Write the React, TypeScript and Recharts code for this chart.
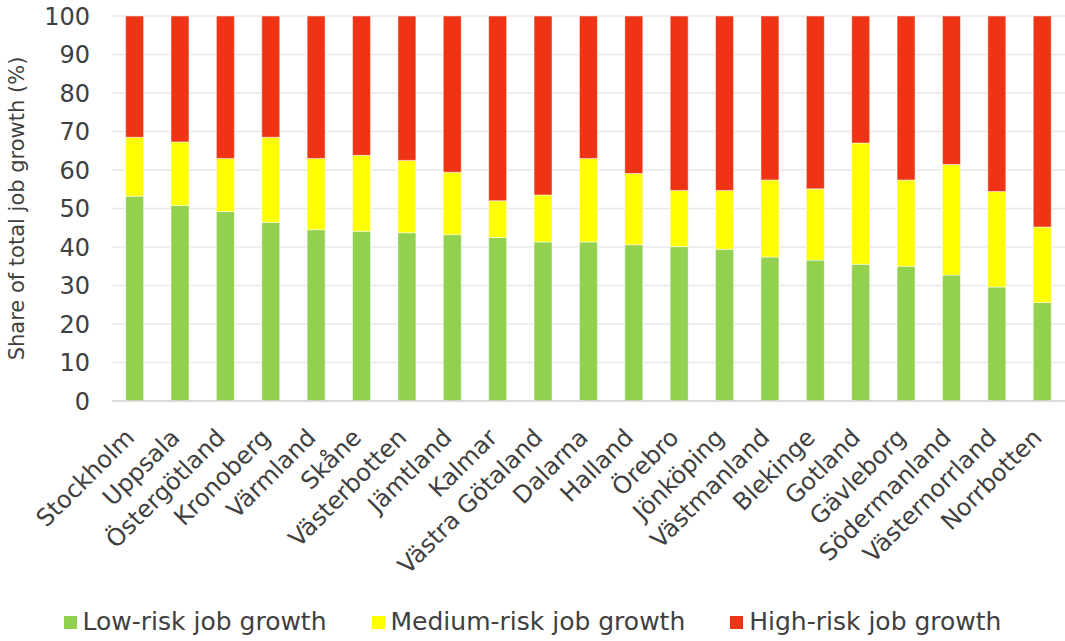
import React from "react"
import { Bar, BarChart, CartesianGrid, Legend, XAxis, YAxis } from "recharts"

// County shares of total job growth, split by automation risk (%)
const counties = [
  "Stockholm", "Uppsala", "Östergötland", "Kronoberg", "Värmland", "Skåne", "Västerbotten",
  "Jämtland", "Kalmar", "Västra Götaland", "Dalarna", "Halland", "Örebro", "Jönköping",
  "Västmanland", "Blekinge", "Gotland", "Gävleborg", "Södermanland", "Västernorrland", "Norrbotten",
]
const lowRisk = [53.2, 50.8, 49.2, 46.4, 44.5, 44.1, 43.7, 43.2, 42.5, 41.3, 41.3, 40.6, 40.1, 39.4, 37.4, 36.6, 35.5, 35.0, 32.7, 29.6, 25.6]
const mediumRisk = [15.3, 16.5, 13.8, 22.1, 18.5, 19.7, 18.8, 16.2, 9.5, 12.2, 21.7, 18.5, 14.6, 15.3, 20.0, 18.5, 31.5, 22.4, 28.7, 24.8, 19.6]
const highRisk = [31.5, 32.7, 37.0, 31.5, 37.0, 36.2, 37.5, 40.6, 48.0, 46.5, 37.0, 40.9, 45.3, 45.3, 42.6, 44.9, 33.0, 42.6, 38.6, 45.6, 54.8]
const yTicks = [0, 10, 20, 30, 40, 50, 60, 70, 80, 90, 100]

const series = [
  { key: "low", name: "Low-risk job growth", color: "#92D050" },
  { key: "medium", name: "Medium-risk job growth", color: "#FFFF00" },
  { key: "high", name: "High-risk job growth", color: "#EE3414" },
]

const rows = counties.map((county, i) => ({
  county,
  low: lowRisk[i],
  medium: mediumRisk[i],
  high: highRisk[i],
}))

const FONT = "'DejaVu Sans', sans-serif"
const TEXT = "#404040"

function CountyTick({ x, y, payload }: any) {
  return (
    <text
      x={x + 1}
      y={y + 30}
      textAnchor="end"
      transform={`rotate(-45, ${x + 1}, ${y + 30})`}
      fill={TEXT}
      fontSize={24}
      fontFamily={FONT}
    >
      {payload.value}
    </text>
  )
}

function LegendRow() {
  return (
    <div
      style={{
        display: "flex",
        justifyContent: "center",
        alignItems: "center",
        height: 40,
        fontFamily: FONT,
        fontSize: 25,
        color: TEXT,
      }}
    >
      {series.map((s, i) => (
        <div key={s.key} style={{ display: "flex", alignItems: "center", marginLeft: i ? 45 : 0 }}>
          <span style={{ width: 13, height: 13, background: s.color, marginRight: 6, marginTop: 2 }} />
          <span>{s.name}</span>
        </div>
      ))}
    </div>
  )
}

export default function App() {
  return (
    <div style={{ width: 1065, height: 641, background: "#fff" }}>
      <style>{`body { margin: 0; }`}</style>
      <BarChart
        width={1065}
        height={641}
        data={rows}
        margin={{ top: 16, right: 0, left: 0, bottom: 0 }}
        barCategoryGap="30%"
      >
        <CartesianGrid vertical={false} stroke="#E8E8E8" strokeWidth={1.5} />
        <XAxis
          dataKey="county"
          interval={0}
          height={200}
          tick={<CountyTick />}
          tickLine={false}
          axisLine={{ stroke: "#D6D6D6", strokeWidth: 1.5 }}
        />
        <YAxis
          width={112}
          domain={[0, 100]}
          ticks={yTicks}
          tickLine={false}
          axisLine={false}
          tickMargin={16}
          tick={{ fill: TEXT, fontSize: 24, fontFamily: FONT }}
          label={{
            value: "Share of total job growth (%)",
            angle: -90,
            position: "insideLeft",
            dx: 12,
            style: { textAnchor: "middle", fill: TEXT, fontSize: 21, fontFamily: FONT },
          }}
        />
        <Legend verticalAlign="bottom" height={40} content={<LegendRow />} />
        {series.map((s) => (
          <Bar
            key={s.key}
            dataKey={s.key}
            name={s.name}
            stackId="share"
            fill={s.color}
            stroke="#ffffff"
            strokeWidth={0.5}
            isAnimationActive={false}
          />
        ))}
      </BarChart>
    </div>
  )
}
